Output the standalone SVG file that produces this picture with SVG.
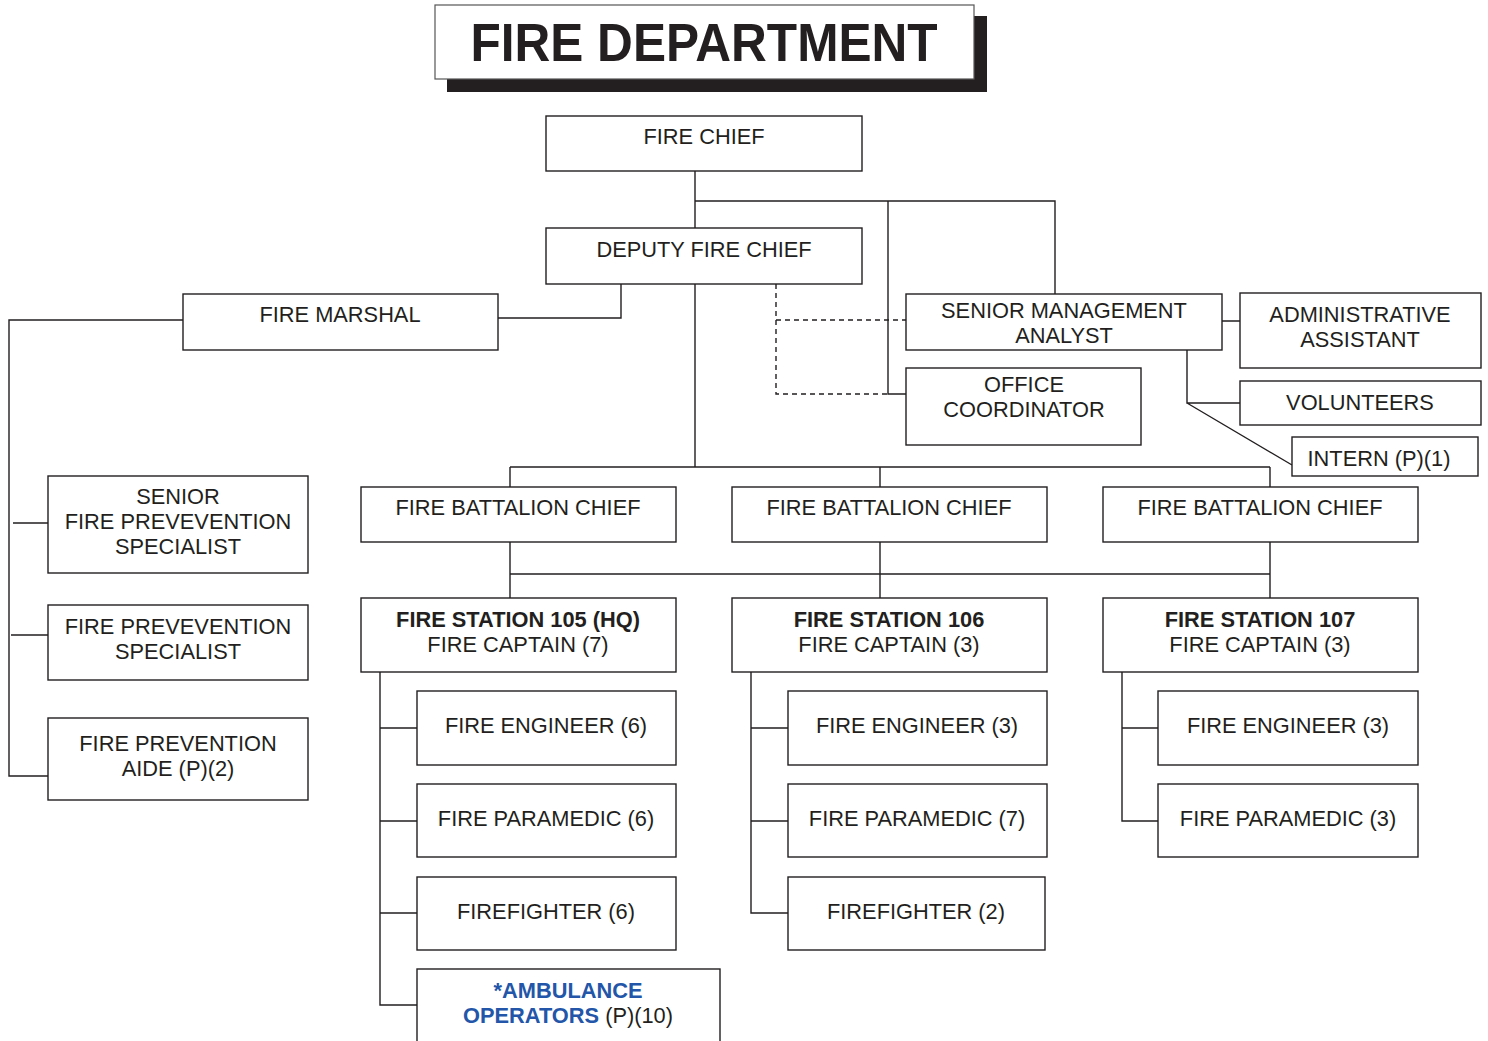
<svg xmlns="http://www.w3.org/2000/svg" width="1488" height="1041" viewBox="0 0 1488 1041">
<style>
.b{fill:#fff;stroke:#231f20;stroke-width:1.4}
.t{font-family:"Liberation Sans",Arial,sans-serif;font-size:21.8px;fill:#231f20;text-anchor:middle}
.bd{font-weight:bold}
.c{fill:none;stroke:#231f20;stroke-width:1.4}
.d{fill:none;stroke:#231f20;stroke-width:1.4;stroke-dasharray:5 4}
.blue{fill:#2356a8;font-weight:bold}
</style>
<rect width="1488" height="1041" fill="#fff"/>
<g id="title">
<rect x="447" y="16" width="540" height="76" fill="#231f20"/>
<rect x="435" y="5" width="539" height="74" fill="#fff" stroke="#555" stroke-width="1.2"/>
<text x="704" y="61" class="t bd" style="font-size:54px" textLength="467" lengthAdjust="spacingAndGlyphs">FIRE DEPARTMENT</text>
</g>
<g id="connectors">
<path class="c" d="M695 171V228M695 201H1055V294M888 201V394H906"/>
<path class="c" d="M695 284V467M510 467H1270M510 467V487M880 467V487M1270 467V487"/>
<path class="c" d="M621 284V318H498"/>
<path class="d" d="M776 284V394H888M776 320H906"/>
<path class="c" d="M183 320H9V776H48M13 523H48M11 635H48"/>
<path class="c" d="M1222 321H1240M1187 350V403H1240M1187 403L1292 465"/>
<path class="c" d="M510 542V598M880 542V598M1270 542V598M510 574H1270"/>
<path class="c" d="M380 672V1005H417M380 728H417M380 821H417M380 913H417"/>
<path class="c" d="M751 672V913H788M751 728H788M751 821H788"/>
<path class="c" d="M1122 672V821H1158M1122 728H1158"/>
</g>
<g id="fire-chief"><rect class="b" x="546" y="116" width="316" height="55"/><text class="t" x="704" y="144">FIRE CHIEF</text></g>
<g id="deputy-fire-chief"><rect class="b" x="546" y="228" width="316" height="56"/><text class="t" x="704" y="257">DEPUTY FIRE CHIEF</text></g>
<g id="fire-marshal"><rect class="b" x="183" y="294" width="315" height="56"/><text class="t" x="340" y="322">FIRE MARSHAL</text></g>
<g id="senior-fps"><rect class="b" x="48" y="476" width="260" height="97"/><text class="t" x="178" y="504">SENIOR</text><text class="t" x="178" y="529">FIRE PREVEVENTION</text><text class="t" x="178" y="554">SPECIALIST</text></g>
<g id="fps"><rect class="b" x="48" y="605" width="260" height="75"/><text class="t" x="178" y="634">FIRE PREVEVENTION</text><text class="t" x="178" y="659">SPECIALIST</text></g>
<g id="fpa"><rect class="b" x="48" y="718" width="260" height="82"/><text class="t" x="178" y="751">FIRE PREVENTION</text><text class="t" x="178" y="776">AIDE (P)(2)</text></g>
<g id="sma"><rect class="b" x="906" y="294" width="316" height="56"/><text class="t" x="1064" y="318">SENIOR MANAGEMENT</text><text class="t" x="1064" y="343">ANALYST</text></g>
<g id="office-coordinator"><rect class="b" x="906" y="368" width="235" height="77"/><text class="t" x="1024" y="392">OFFICE</text><text class="t" x="1024" y="417">COORDINATOR</text></g>
<g id="admin-assistant"><rect class="b" x="1240" y="293" width="241" height="75"/><text class="t" x="1360" y="322">ADMINISTRATIVE</text><text class="t" x="1360" y="347">ASSISTANT</text></g>
<g id="volunteers"><rect class="b" x="1240" y="381" width="241" height="44"/><text class="t" x="1360" y="410">VOLUNTEERS</text></g>
<g id="intern"><rect class="b" x="1292" y="437" width="186" height="39"/><text class="t" x="1379" y="466">INTERN (P)(1)</text></g>
<g id="bc1"><rect class="b" x="361" y="487" width="315" height="55"/><text class="t" x="518" y="515">FIRE BATTALION CHIEF</text></g>
<g id="bc2"><rect class="b" x="732" y="487" width="315" height="55"/><text class="t" x="889" y="515">FIRE BATTALION CHIEF</text></g>
<g id="bc3"><rect class="b" x="1103" y="487" width="315" height="55"/><text class="t" x="1260" y="515">FIRE BATTALION CHIEF</text></g>
<g id="fs105"><rect class="b" x="361" y="598" width="315" height="74"/><text class="t bd" x="518" y="627">FIRE STATION 105 (HQ)</text><text class="t" x="518" y="652">FIRE CAPTAIN (7)</text></g>
<g id="fs106"><rect class="b" x="732" y="598" width="315" height="74"/><text class="t bd" x="889" y="627">FIRE STATION 106</text><text class="t" x="889" y="652">FIRE CAPTAIN (3)</text></g>
<g id="fs107"><rect class="b" x="1103" y="598" width="315" height="74"/><text class="t bd" x="1260" y="627">FIRE STATION 107</text><text class="t" x="1260" y="652">FIRE CAPTAIN (3)</text></g>
<g id="fe105"><rect class="b" x="417" y="691" width="259" height="74"/><text class="t" x="546" y="733">FIRE ENGINEER (6)</text></g>
<g id="fp105"><rect class="b" x="417" y="784" width="259" height="73"/><text class="t" x="546" y="826">FIRE PARAMEDIC (6)</text></g>
<g id="ff105"><rect class="b" x="417" y="877" width="259" height="73"/><text class="t" x="546" y="919">FIREFIGHTER (6)</text></g>
<g id="amb105"><rect class="b" x="417" y="969" width="303" height="80"/><text class="t blue" x="568" y="998">*AMBULANCE</text><text class="t" x="568" y="1023"><tspan class="blue">OPERATORS</tspan> (P)(10)</text></g>
<g id="fe106"><rect class="b" x="788" y="691" width="259" height="74"/><text class="t" x="917" y="733">FIRE ENGINEER (3)</text></g>
<g id="fp106"><rect class="b" x="788" y="784" width="259" height="73"/><text class="t" x="917" y="826">FIRE PARAMEDIC (7)</text></g>
<g id="ff106"><rect class="b" x="788" y="877" width="257" height="73"/><text class="t" x="916" y="919">FIREFIGHTER (2)</text></g>
<g id="fe107"><rect class="b" x="1158" y="691" width="260" height="74"/><text class="t" x="1288" y="733">FIRE ENGINEER (3)</text></g>
<g id="fp107"><rect class="b" x="1158" y="784" width="260" height="73"/><text class="t" x="1288" y="826">FIRE PARAMEDIC (3)</text></g>
</svg>
